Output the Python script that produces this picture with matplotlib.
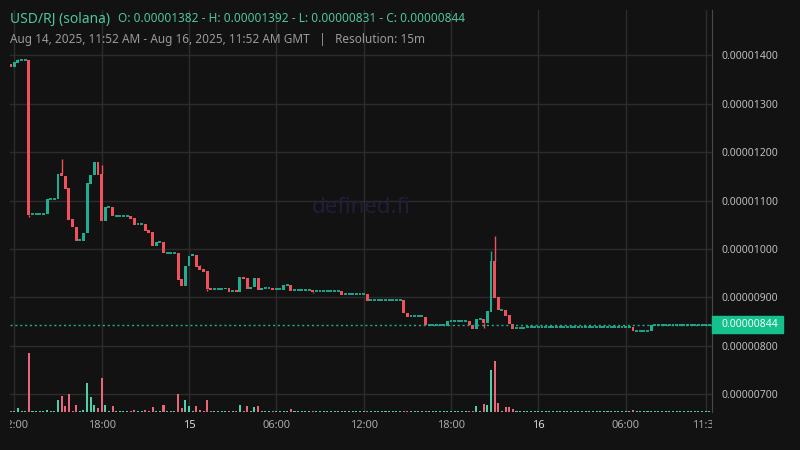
import numpy as np
import matplotlib
matplotlib.use("Agg")
import matplotlib.pyplot as plt
from matplotlib.patches import Rectangle
from matplotlib.transforms import Bbox, TransformedBbox, blended_transform_factory

# 15m candles, prices in units of 1e-6 USD, first candle Aug 14 11:45 GMT
start_hour = 11.75
resolution_h = 0.25
candles = (
    [(13.82, 13.76), (13.76, 13.85), (13.84, 13.90)] + [(13.89, 13.89)] * 2
    + [(13.89, 10.70)] + [(10.72, 10.72)] * 4 + [(10.72, 11.03)] + [(11.03, 11.03)] * 2
    + [(11.03, 11.55), (11.57, 11.51), (11.51, 11.24), (11.25, 10.60), (10.61, 10.45),
       (10.46, 10.16), (10.18, 10.18), (10.16, 10.33), (10.33, 11.36), (11.35, 11.53),
       (11.52, 11.79), (11.79, 11.53), (11.55, 10.58), (10.58, 10.86), (10.86, 10.86),
       (10.86, 10.68)]
    + [(10.68, 10.68)] * 4
    + [(10.69, 10.62), (10.63, 10.49)] + [(10.51, 10.51)] * 2
    + [(10.51, 10.37), (10.39, 10.33), (10.35, 10.06), (10.06, 10.14), (10.14, 10.14),
       (10.14, 9.92)]
    + [(9.91, 9.91)] * 3
    + [(9.92, 9.36), (9.38, 9.24), (9.24, 9.65), (9.65, 9.86), (9.86, 9.89), (9.88, 9.63),
       (9.65, 9.57), (9.58, 9.52), (9.54, 9.17), (9.19, 9.15)]
    + [(9.17, 9.17)] * 3
    + [(9.17, 9.19), (9.19, 9.11), (9.14, 9.14), (9.15, 9.11), (9.11, 9.42), (9.42, 9.38),
       (9.40, 9.17), (9.17, 9.21), (9.21, 9.40), (9.40, 9.15), (9.15, 9.19)]
    + [(9.19, 9.19)] * 2 + [(9.19, 9.15)] + [(9.17, 9.17)] * 2
    + [(9.15, 9.25), (9.25, 9.25), (9.25, 9.13)] + [(9.15, 9.15)] * 5
    + [(9.15, 9.11)] + [(9.13, 9.13)] * 7 + [(9.13, 9.05)] + [(9.07, 9.07)] * 6
    + [(9.07, 8.93)] + [(8.94, 8.94)] * 9
    + [(8.94, 8.68), (8.68, 8.60)] + [(8.61, 8.61)] * 4 + [(8.60, 8.44)]
    + [(8.43, 8.43)] * 5 + [(8.42, 8.51)] + [(8.52, 8.52)] * 5
    + [(8.52, 8.43), (8.43, 8.35), (8.35, 8.56), (8.56, 8.56), (8.56, 8.48), (8.48, 8.72),
       (8.71, 9.75), (9.75, 8.99), (9.00, 8.74), (8.75, 8.75), (8.75, 8.62), (8.64, 8.45),
       (8.46, 8.35)]
    + [(8.37, 8.37)] * 3 + [(8.39, 8.39)] * 29 + [(8.39, 8.31)] + [(8.31, 8.31)] * 4
    + [(8.31, 8.44)] + [(8.44, 8.44)] * 16
)
# wick extremes beyond the body (candle index -> price)
wick_highs = {2: 13.92, 14: 11.86, 25: 11.73, 52: 9.68, 132: 9.96, 133: 10.27}
wick_lows = {5: 10.66, 54: 9.13, 83: 9.09, 130: 8.38}
# traded volume (arbitrary units), candles not listed had only dust volume
volume_spikes = {2: 4.3, 5: 59, 10: 2.3, 13: 12, 14: 16, 15: 6, 16: 18, 17: 0.8, 18: 7,
                 20: 2.3, 21: 29, 22: 15, 23: 7, 24: 4, 25: 34, 26: 7, 28: 6, 34: 2,
                 37: 2, 39: 5, 42: 7, 46: 18, 47: 4, 48: 12, 49: 6, 51: 6, 52: 2, 54: 12,
                 60: 1.3, 63: 7, 65: 6, 66: 1.3, 67: 5, 68: 6, 69: 1.3, 72: 0.8, 77: 3,
                 83: 0.8, 98: 1.3, 108: 1.3, 114: 1.3, 120: 1.3, 126: 1.3, 128: 6, 130: 8,
                 131: 7, 132: 42, 133: 51, 134: 9, 136: 5, 137: 5, 138: 3, 171: 2}
dust_volume = 0.8

price_ticks = [7, 8, 9, 10, 11, 12, 13, 14]
time_ticks = [12, 18, 24, 30, 36, 42, 48, 54, 59.5]
time_labels = ["12:00", "18:00", "15", "06:00", "12:00", "18:00", "16", "06:00", "11:30"]
day_labels = ["15", "16"]

BG = "#121212"
GRID = "#2c2c2c"
UP = "#1fae92"
DOWN = "#f0515a"
VOL_UP = "#4fcfa8"
VOL_DOWN = "#e8677a"

plt.rcParams['font.family'] = ['Noto Sans', 'DejaVu Sans']

opens = np.array([c[0] for c in candles])
closes = np.array([c[1] for c in candles])
times = start_hour + resolution_h * np.arange(len(candles))
up = closes >= opens

fig = plt.figure(figsize=(8, 4.5), dpi=100, facecolor=BG)
ax = fig.add_axes([10 / 800, 38 / 450, 702 / 800, 402 / 450])
ax.set_facecolor(BG)
ax.set_xlim(11.705, 59.93)
ax.set_ylim(6.639, 14.928)

# grid
for p in price_ticks:
    ax.axhline(p, color=GRID, lw=1, zorder=0)
for t in time_ticks:
    ax.axvline(t, color=GRID, lw=1, zorder=0)

ax.text(0.5 * (11.705 + 59.93), 10.85, "defined.fi", color="#201f3a", fontsize=16,
        ha="center", va="center", zorder=0.5)

# volume on a separate scale sharing the time axis
vax = ax.twinx()
vax.set_ylim(0, 402)
vax.axis("off")
vols = np.array([volume_spikes.get(i, dust_volume) for i in range(len(candles))])
vax.bar(times, vols, width=0.14, color=np.where(up, VOL_UP, VOL_DOWN), linewidth=0)

# candles
body_w = 0.2
flat = opens == closes
moving = ~flat
ax.bar(times[moving], (closes - opens)[moving], bottom=opens[moving], width=body_w,
       color=np.where(up, UP, DOWN)[moving], linewidth=0, zorder=3)
ax.hlines(closes[flat], times[flat] - body_w / 2, times[flat] + body_w / 2,
          color=UP, lw=1.3, zorder=3)
for i, h in wick_highs.items():
    ax.vlines(times[i], max(opens[i], closes[i]), h, color=UP if up[i] else DOWN, lw=1, zorder=2)
for i, l in wick_lows.items():
    ax.vlines(times[i], l, min(opens[i], closes[i]), color=UP if up[i] else DOWN, lw=1, zorder=2)

# last price line and tag
last = closes[-1]
ax.axhline(last, color=UP, lw=1, linestyle=(0, (1.5, 2)), zorder=4)
tag_tr = blended_transform_factory(ax.transAxes, ax.transData)
ax.add_patch(Rectangle((1.0, last - 0.175), 71 / 702, 0.35, transform=tag_tr,
                       color="#14c08b", clip_on=False, zorder=5))
ax.text(1.0 + 10 / 702, last, f"{last * 1e-6:.8f}", transform=tag_tr, color="#f2fff9",
        fontsize=7.5, va="center", ha="left", zorder=6)

# axes styling
for s in ["top", "left", "bottom"]:
    ax.spines[s].set_visible(False)
ax.spines["right"].set_color("#4a4a4a")
ax.yaxis.tick_right()
ax.set_yticks(price_ticks)
ax.set_yticklabels([f"{p * 1e-6:.8f}" for p in price_ticks])
ax.tick_params(axis="y", length=0, pad=7, labelsize=7.5, labelcolor="#bdbdbd")
ax.set_xticks(time_ticks)
ax.set_xticklabels(time_labels)
ax.tick_params(axis="x", length=0, pad=6, labelsize=8, labelcolor="#a8a8a8")
clip = TransformedBbox(Bbox([[10 / 800, 0], [712 / 800, 1]]), fig.transFigure)
for lbl in ax.get_xticklabels():
    lbl.set_clip_on(True)
    lbl.set_clip_box(clip)
    if lbl.get_text() in day_labels:
        lbl.set_fontweight("bold")
        lbl.set_color("#dcdcdc")

# header
fig.text(10 / 800, 1 - 19 / 450, "USD/RJ (solana)", color="#4fc3a1", fontsize=10, va="center")
fig.text(118 / 800, 1 - 19 / 450,
         "O: 0.00001382 - H: 0.00001392 - L: 0.00000831 - C: 0.00000844",
         color="#4fc3a1", fontsize=8.5, va="center")
fig.text(10 / 800, 1 - 40 / 450,
         "Aug 14, 2025, 11:52 AM - Aug 16, 2025, 11:52 AM GMT   |   Resolution: 15m",
         color="#9a9a9a", fontsize=8.5, va="center")

fig.savefig("out.png", dpi=100, facecolor=BG)
